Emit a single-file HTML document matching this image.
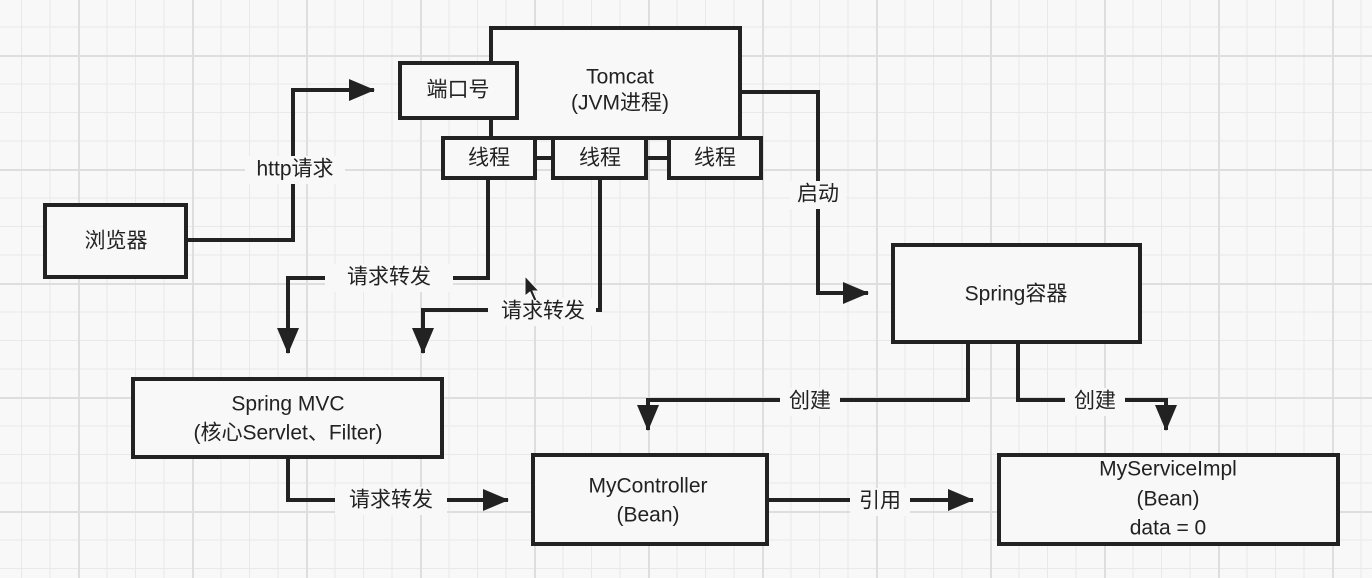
<!DOCTYPE html>
<html><head><meta charset="utf-8"><style>
html,body{margin:0;padding:0}
body{width:1372px;height:578px;overflow:hidden;background-color:#f8f8f8;
background-image:
linear-gradient(#dedede 2px,transparent 2px),
linear-gradient(90deg,#dedede 2px,transparent 2px),
linear-gradient(#e9e9e9 1px,transparent 1px),
linear-gradient(90deg,#e9e9e9 1px,transparent 1px);
background-size:114px 114px,114px 114px,28.5px 28.5px,28.5px 28.5px;
background-position:0 55px,78px 0,0 55px,78px 0;}
svg{position:absolute;left:0;top:0}
text{font-family:"Liberation Sans","Noto Sans CJK SC",sans-serif;font-size:21px;fill:#222;text-anchor:middle;dominant-baseline:middle}
</style></head><body>
<svg width="1372" height="578" viewBox="0 0 1372 578">
<defs><marker id="a" markerWidth="8" markerHeight="8" refX="7" refY="4" orient="auto" markerUnits="userSpaceOnUse" viewBox="0 0 8 8"><path d="M0,0 L8,4 L0,8z" fill="#222"/></marker>
<marker id="b" markerWidth="26" markerHeight="22" refX="25" refY="11" orient="auto" markerUnits="userSpaceOnUse"><path d="M0,0 L26,11 L0,22z" fill="#222"/></marker></defs>
<g fill="none" stroke="#222" stroke-width="4">
<path d="M186,240 H293 V90 H374" marker-end="url(#b)"/>
<path d="M740,92 H818 V293 H868" marker-end="url(#b)"/>
<path d="M488,178 V278 H288 V353" marker-end="url(#b)"/>
<path d="M600,178 V310 H423 V353" marker-end="url(#b)"/>
<path d="M288,457 V500 H508" marker-end="url(#b)"/>
<path d="M767,500 H973" marker-end="url(#b)"/>
<path d="M968,342 V400 H648 V430" marker-end="url(#b)"/>
<path d="M1018,342 V400 H1166 V430" marker-end="url(#b)"/>
<path d="M535,158 H553 M646,158 H669"/>
</g>
<g fill="#f8f8f8" stroke="#222" stroke-width="4">
<rect x="491" y="28" width="249" height="110" fill="#f8f8f8"/>
<rect x="400" y="63" width="117" height="55"/>
<rect x="443" y="138" width="92" height="40"/>
<rect x="553" y="138" width="93" height="40"/>
<rect x="669" y="138" width="92" height="40"/>
<rect x="45" y="205" width="141" height="72"/>
<rect x="893" y="245" width="247" height="97"/>
<rect x="133" y="379" width="309" height="78"/>
<rect x="533" y="455" width="234" height="89"/>
<rect x="999" y="455" width="339" height="89"/>
</g>
<g fill="#f8f8f8">
<rect x="325" y="264" width="128" height="28"/>
<rect x="488" y="298" width="108" height="28"/>
<rect x="335" y="487" width="112" height="28"/>
<rect x="850" y="488" width="60" height="28"/>
<rect x="780" y="388" width="60" height="28"/>
<rect x="1065" y="388" width="60" height="28"/>
<rect x="790" y="181" width="56" height="28"/>
<rect x="245" y="156" width="100" height="28"/>
</g>
<text x="620" y="78">Tomcat</text>
<text x="620" y="104">(JVM进程)</text>
<text x="458" y="91">端口号</text>
<text x="489" y="159">线程</text>
<text x="600" y="159">线程</text>
<text x="715" y="159">线程</text>
<text x="116" y="242">浏览器</text>
<text x="295" y="170">http请求</text>
<text x="818" y="195">启动</text>
<text x="1016" y="295">Spring容器</text>
<text x="389" y="278">请求转发</text>
<text x="543" y="312">请求转发</text>
<text x="288" y="405">Spring MVC</text>
<text x="288" y="434">(核心Servlet、Filter)</text>
<text x="391" y="501">请求转发</text>
<text x="648" y="487">MyController</text>
<text x="648" y="516">(Bean)</text>
<text x="880" y="502">引用</text>
<text x="810" y="402">创建</text>
<text x="1095" y="402">创建</text>
<text x="1168" y="470">MyServiceImpl</text>
<text x="1168" y="500">(Bean)</text>
<text x="1168" y="529">data = 0</text>
<path d="M525,276 L525,296 L530,292 L534,301 L537,300 L533,291 L539,291z" fill="#222" stroke="#fff" stroke-width="1"/>
</svg>
</body></html>
